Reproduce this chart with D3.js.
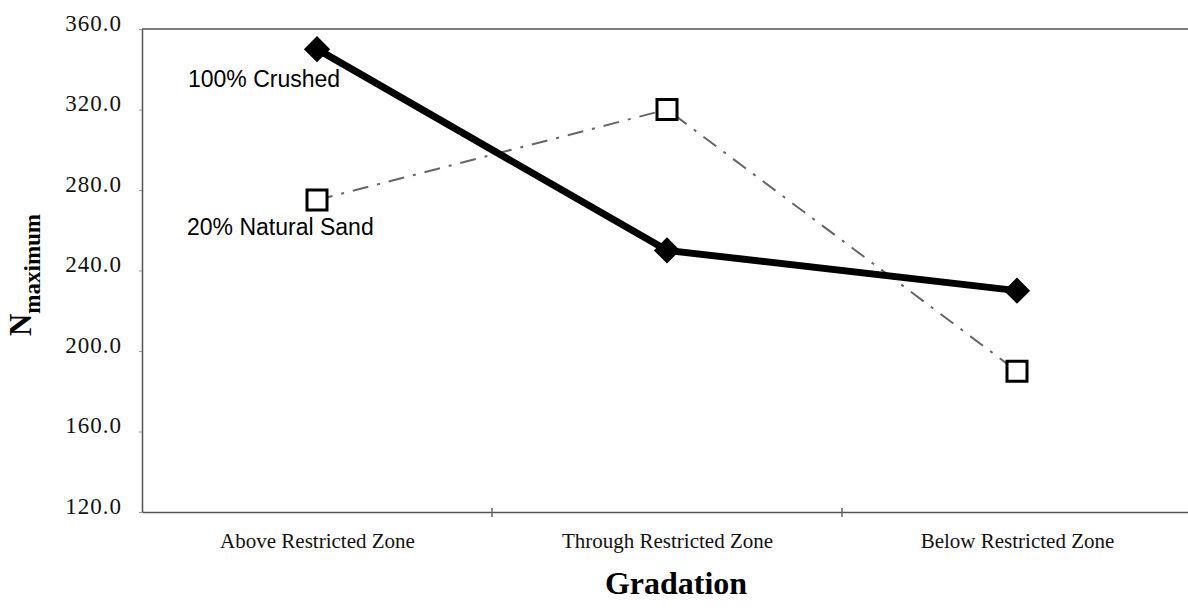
<!DOCTYPE html>
<html>
<head>
<meta charset="utf-8">
<script src="https://cdn.jsdelivr.net/npm/d3@7"></script>
<style>
  body { margin: 0; background: #fff; }
  svg { display: block; }
  .tick text { font-family: "Liberation Serif", "Times New Roman", serif; }
</style>
</head>
<body>
<script>
var categories = ["Above Restricted Zone", "Through Restricted Zone", "Below Restricted Zone"];
var crushed = [350, 250, 230];
var naturalSand = [275, 320, 190];
var yTicks = [120, 160, 200, 240, 280, 320, 360];

var W = 1188, H = 608;
var margin = {top: 29, left: 142, bottom: 512, right: 1192};

var svg = d3.select("body").append("svg")
    .attr("width", W)
    .attr("height", H);

var x = d3.scalePoint()
    .domain(categories)
    .range([margin.left, margin.right])
    .padding(0.5);

var y = d3.scaleLinear()
    .domain([120, 360])
    .range([margin.bottom, margin.top]);

// plot frame (top + right), right one falls off the picture
svg.append("path")
    .attr("d", "M" + margin.left + "," + margin.top + "H" + margin.right + "V" + margin.bottom)
    .attr("fill", "none")
    .attr("stroke", "#555")
    .attr("stroke-width", 1.5);

// y axis
var yAxis = d3.axisLeft(y)
    .tickValues(yTicks)
    .tickFormat(d3.format(".1f"))
    .tickSizeInner(3)
    .tickSizeOuter(0)
    .tickPadding(17);

var gy = svg.append("g")
    .attr("transform", "translate(" + margin.left + ",0)")
    .call(yAxis);
gy.select(".domain").attr("stroke", "#555").attr("stroke-width", 1.5);
gy.selectAll(".tick line").attr("stroke", "#999");
gy.selectAll(".tick text")
    .attr("font-size", 23)
    .attr("letter-spacing", 1)
    .attr("fill", "#111")
    .attr("dy", "0.05em");

// x axis
var xAxis = d3.axisBottom(x)
    .tickSize(0)
    .tickPadding(21);

var gx = svg.append("g")
    .attr("transform", "translate(0," + margin.bottom + ")")
    .call(xAxis);
gx.select(".domain").attr("stroke", "#555").attr("stroke-width", 1.5);
gx.selectAll(".tick text")
    .attr("font-size", 21)
    .attr("fill", "#111");

// category divider ticks
var step = x.step();
gx.selectAll(".divider")
    .data(categories.slice(1))
    .enter().append("line")
    .attr("class", "divider")
    .attr("x1", function(d) { return x(d) - step / 2; })
    .attr("x2", function(d) { return x(d) - step / 2; })
    .attr("y1", -4)
    .attr("y2", 5)
    .attr("stroke", "#666")
    .attr("stroke-width", 1.5);

// axis titles
svg.append("text")
    .attr("x", 676)
    .attr("y", 594)
    .attr("text-anchor", "middle")
    .attr("font-family", "Liberation Serif, Times New Roman, serif")
    .attr("font-weight", "bold")
    .attr("font-size", 32)
    .attr("fill", "#000")
    .text("Gradation");

var ylab = svg.append("text")
    .attr("transform", "translate(31,275) rotate(-90)")
    .attr("text-anchor", "middle")
    .attr("font-family", "Liberation Serif, Times New Roman, serif")
    .attr("font-weight", "bold")
    .attr("fill", "#000");
ylab.append("tspan").attr("font-size", 31).text("N");
ylab.append("tspan").attr("font-size", 23).attr("dy", 9).text("maximum");

var line = d3.line()
    .x(function(d, i) { return x(categories[i]); })
    .y(function(d) { return y(d); });

// 20% natural sand - dash-dot gray line
svg.append("path")
    .datum(naturalSand)
    .attr("d", line)
    .attr("fill", "none")
    .attr("stroke", "#666")
    .attr("stroke-width", 2)
    .attr("stroke-dasharray", "16,9,3,9");

// 100% crushed - heavy black line
svg.append("path")
    .datum(crushed)
    .attr("d", line)
    .attr("fill", "none")
    .attr("stroke", "#000")
    .attr("stroke-width", 7);

svg.selectAll(".diamond")
    .data(crushed)
    .enter().append("path")
    .attr("class", "diamond")
    .attr("d", d3.symbol().type(d3.symbolDiamond2).size(440))
    .attr("transform", function(d, i) { return "translate(" + x(categories[i]) + "," + y(d) + ")"; })
    .attr("fill", "#000");

svg.selectAll(".square")
    .data(naturalSand)
    .enter().append("path")
    .attr("class", "square")
    .attr("d", d3.symbol().type(d3.symbolSquare).size(400))
    .attr("transform", function(d, i) { return "translate(" + x(categories[i]) + "," + y(d) + ")"; })
    .attr("fill", "#fff")
    .attr("stroke", "#000")
    .attr("stroke-width", 3);

// series labels
svg.append("text")
    .attr("x", 188)
    .attr("y", 87)
    .attr("font-family", "Liberation Sans, Arial, sans-serif")
    .attr("font-size", 23)
    .attr("fill", "#000")
    .text("100% Crushed");

svg.append("text")
    .attr("x", 187)
    .attr("y", 235)
    .attr("font-family", "Liberation Sans, Arial, sans-serif")
    .attr("font-size", 23)
    .attr("fill", "#000")
    .text("20% Natural Sand");
</script>
</body>
</html>
